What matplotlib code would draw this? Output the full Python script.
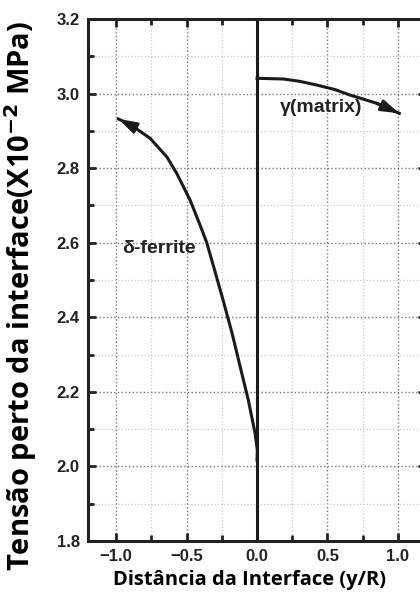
import numpy as np
import matplotlib.pyplot as plt
from matplotlib.ticker import MultipleLocator

# curva delta-ferrita (lado esquerdo da interface)
ferrite_x = [0.0, 0.002, -0.014, -0.062, -0.12, -0.177, -0.241, -0.30, -0.357, -0.40, -0.475, -0.57, -0.64, -0.759, -0.877, -0.984]
ferrite_y = [2.017, 2.044, 2.089, 2.178, 2.268, 2.357, 2.446, 2.525, 2.600, 2.643, 2.714, 2.786, 2.830, 2.880, 2.911, 2.932]

# curva gamma (matriz, lado direito)
matrix_x = [0.0, 0.187, 0.30, 0.423, 0.55, 0.66, 0.849, 1.01]
matrix_y = [3.041, 3.039, 3.033, 3.023, 3.011, 2.996, 2.974, 2.947]

fig = plt.figure(figsize=(4.2, 5.97), dpi=100)
ax = fig.add_axes([0.2095, 0.0938, 0.805, 0.8744])

ax.set_xlim(-1.2, 1.2)
ax.set_ylim(1.8, 3.2)

ax.xaxis.set_major_locator(MultipleLocator(0.5))
ax.xaxis.set_minor_locator(MultipleLocator(0.25))
ax.yaxis.set_major_locator(MultipleLocator(0.2))
ax.yaxis.set_minor_locator(MultipleLocator(0.1))

ax.grid(True, which='major', linestyle=':', color='#777777', linewidth=1.0)
ax.grid(True, which='minor', linestyle=':', color='#cccccc', linewidth=0.9)
ax.set_axisbelow(True)

ax.tick_params(which='both', direction='in', top=True, right=True, width=2, colors='#222222')
ax.tick_params(which='major', length=6, labelsize=12, pad=6)
ax.tick_params(which='minor', length=4)
for lab in ax.get_xticklabels() + ax.get_yticklabels():
    lab.set_fontweight('bold')
    lab.set_family('Liberation Sans')
    lab.set_color('#222222')
for sp in ax.spines.values():
    sp.set_linewidth(2.2)
    sp.set_color('#222222')

# interface
ax.axvline(0.0, color='#1a1a1a', linewidth=2.2)

head = '-|>,head_length=0.7,head_width=0.22'
ax.plot(ferrite_x, ferrite_y, color='#1a1a1a', linewidth=2.2)
ax.annotate('', xy=(ferrite_x[-1], ferrite_y[-1]), xytext=(ferrite_x[-2], ferrite_y[-2]),
            arrowprops=dict(arrowstyle=head, color='#1a1a1a', lw=2.2, mutation_scale=15,
                            shrinkA=0, shrinkB=0))
ax.plot(matrix_x, matrix_y, color='#1a1a1a', linewidth=2.2)
ax.annotate('', xy=(matrix_x[-1], matrix_y[-1]), xytext=(matrix_x[-2], matrix_y[-2]),
            arrowprops=dict(arrowstyle=head, color='#1a1a1a', lw=2.2, mutation_scale=15,
                            shrinkA=0, shrinkB=0))

ax.text(-0.955, 2.585, 'δ-ferrite', fontsize=14, fontweight='bold', color='#222222',
        family=['Liberation Sans', 'DejaVu Sans'], va='center')
ax.text(0.16, 2.962, 'γ(matrix)', fontsize=14, fontweight='bold', color='#222222',
        family=['Liberation Sans', 'DejaVu Sans'], va='center')

fig.text(0.595, 0.028, 'Distância da Interface (y/R)', fontsize=14.5, fontweight='bold',
         family='Open Sans', ha='center', va='center')
fig.text(0.05, 0.505, 'Tensão perto da interface(X10$^{\\mathbf{-2}}$ MPa)', rotation=90,
         fontsize=21, fontweight='bold', family='Open Sans', va='center', ha='center')

fig.savefig('out.png', dpi=100)
